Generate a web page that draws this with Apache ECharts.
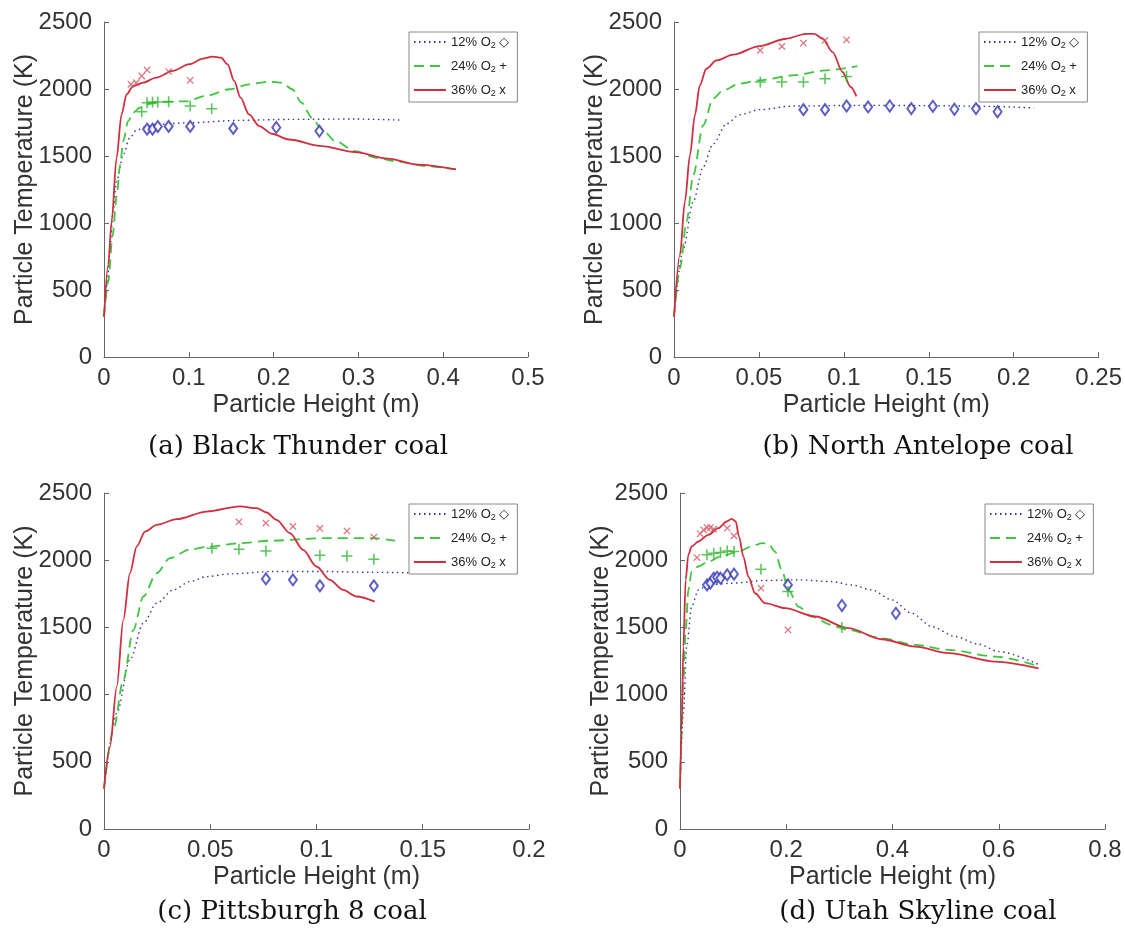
<!DOCTYPE html>
<html>
<head>
<meta charset="utf-8">
<script src="https://cdn.jsdelivr.net/npm/echarts@6/dist/echarts.min.js"></script>
<style>
html,body{margin:0;padding:0;background:#fff;}
#chart{width:1125px;height:934px;}
</style>
</head>
<body>
<div id="chart"></div>
<script>
// ---------- Data ----------
// Panel (a) Black Thunder coal
const a12Model = [[0,300],[0.004,560],[0.007,813],[0.011,1100],[0.0148,1312],[0.0227,1511],[0.0305,1636],[0.038,1691],[0.05,1720],[0.0617,1736],[0.1008,1748],[0.159,1766],[0.218,1773],[0.296,1776],[0.35,1768]];
const a24Model = [[0,300],[0.005,563],[0.01,900],[0.015,1200],[0.019,1436],[0.0227,1611],[0.0285,1761],[0.0344,1823],[0.042,1860],[0.054,1890],[0.073,1905],[0.097,1908],[0.12,1948],[0.148,1998],[0.171,2035],[0.195,2055],[0.21,2047],[0.222,1998],[0.233,1898],[0.245,1786],[0.257,1698],[0.273,1611],[0.296,1536],[0.323,1486],[0.343,1461],[0.38,1425],[0.415,1400]];
const a36Model = [[0,300],[0.005,688],[0.009,1012],[0.0148,1486],[0.0207,1810],[0.0266,1960],[0.0344,2022],[0.046,2047],[0.0617,2085],[0.081,2135],[0.1008,2185],[0.1164,2227],[0.128,2242],[0.138,2234],[0.1457,2185],[0.1535,2060],[0.161,1935],[0.171,1810],[0.183,1723],[0.198,1666],[0.218,1623],[0.257,1574],[0.296,1529],[0.335,1481],[0.37,1436],[0.415,1400]];
const a12Exp = [[0.0508,1700],[0.0572,1700],[0.0635,1720],[0.0762,1721],[0.1016,1721],[0.1524,1706],[0.2032,1713],[0.254,1686]];
const a24Exp = [[0.0445,1830],[0.0508,1898],[0.0572,1903],[0.0635,1903],[0.0762,1905],[0.1016,1873],[0.127,1853]];
const a36Exp = [[0.0318,2035],[0.0381,2047],[0.0445,2097],[0.0508,2142],[0.0762,2130],[0.1016,2065]];

// Panel (b) North Antelope coal
const b12Model = [[0,300],[0.0055,811],[0.0113,1159],[0.0172,1420],[0.023,1590],[0.0309,1740],[0.0387,1808],[0.0504,1846],[0.07,1873],[0.109,1878],[0.15,1876],[0.187,1870],[0.212,1858]];
const b24Model = [[0,300],[0.0035,662],[0.0074,1010],[0.0113,1357],[0.0172,1730],[0.023,1928],[0.0289,1990],[0.0387,2040],[0.0504,2065],[0.07,2102],[0.0895,2139],[0.108,2171]];
const b36Model = [[0,300],[0.0035,762],[0.0064,1159],[0.0094,1506],[0.0123,1804],[0.0152,2027],[0.019,2151],[0.025,2213],[0.0348,2256],[0.0504,2320],[0.066,2375],[0.0777,2412],[0.0826,2412],[0.0875,2375],[0.0934,2275],[0.0992,2127],[0.104,2015],[0.1074,1945]];
const b12Exp = [[0.0762,1846],[0.0889,1846],[0.1016,1873],[0.1143,1866],[0.127,1873],[0.1397,1854],[0.1524,1871],[0.1651,1849],[0.1778,1854],[0.1905,1830]];
const b24Exp = [[0.0508,2052],[0.0635,2052],[0.0762,2052],[0.0889,2077],[0.1016,2094]];
const b36Exp = [[0.0508,2288],[0.0635,2318],[0.0762,2342],[0.0889,2362],[0.1016,2367]];

// Panel (c) Pittsburgh 8 coal
const c12Model = [[0,300],[0.006,861],[0.0122,1258],[0.0185,1531],[0.0248,1680],[0.0326,1779],[0.0404,1841],[0.0483,1878],[0.0592,1898],[0.0796,1916],[0.103,1916],[0.125,1910],[0.149,1905]];
const c24Model = [[0,300],[0.0044,737],[0.0091,1109],[0.0138,1481],[0.0185,1730],[0.0248,1903],[0.031,2015],[0.0404,2080],[0.0498,2102],[0.064,2127],[0.0796,2146],[0.103,2164],[0.1266,2164],[0.137,2146]];
const c36Model = [[0,300],[0.0028,613],[0.006,1060],[0.0091,1556],[0.0122,1903],[0.0154,2102],[0.0193,2213],[0.0248,2263],[0.0342,2305],[0.0483,2362],[0.064,2400],[0.0718,2387],[0.0765,2355],[0.0812,2300],[0.0875,2201],[0.0937,2077],[0.1,1953],[0.1063,1854],[0.1125,1779],[0.1188,1730],[0.1274,1692]];
const c12Exp = [[0.0762,1861],[0.0889,1854],[0.1016,1809],[0.127,1809]];
const c24Exp = [[0.0508,2089],[0.0635,2082],[0.0762,2069],[0.1016,2037],[0.1143,2032],[0.127,2007]];
const c36Exp = [[0.0635,2285],[0.0762,2276],[0.0889,2251],[0.1016,2236],[0.1143,2218],[0.127,2171]];

// Panel (d) Utah Skyline coal
const d12Model = [[0,300],[0.0063,861],[0.0126,1357],[0.022,1655],[0.0345,1779],[0.0534,1816],[0.0973,1829],[0.1601,1849],[0.2229,1854],[0.2857,1841],[0.3234,1816],[0.3611,1779],[0.3987,1705],[0.4364,1605],[0.4741,1506],[0.518,1432],[0.562,1375],[0.6,1320],[0.68,1215]];
const d24Model = [[0,300],[0.0063,1109],[0.0107,1481],[0.0157,1779],[0.022,1916],[0.0345,1953],[0.0534,1990],[0.0785,2032],[0.1099,2064],[0.135,2102],[0.1539,2127],[0.1664,2122],[0.179,2064],[0.1915,1928],[0.2041,1779],[0.2229,1655],[0.248,1581],[0.2857,1519],[0.3171,1481],[0.3799,1419],[0.4427,1370],[0.5055,1333],[0.5934,1283],[0.675,1210]];
const d36Model = [[0,300],[0.0031,737],[0.0063,1357],[0.0107,1854],[0.0157,2040],[0.022,2102],[0.0345,2139],[0.0534,2189],[0.0722,2238],[0.0879,2288],[0.0973,2308],[0.1049,2288],[0.1111,2176],[0.1193,2027],[0.1287,1878],[0.1413,1754],[0.1601,1680],[0.1978,1643],[0.2543,1581],[0.3171,1494],[0.3799,1412],[0.4427,1357],[0.5055,1308],[0.5934,1246],[0.675,1195]];
const d12Exp = [[0.0508,1816],[0.0572,1830],[0.0635,1866],[0.0699,1873],[0.0762,1866],[0.0889,1891],[0.1016,1896],[0.2032,1816],[0.3048,1663],[0.4064,1605]];
const d24Exp = [[0.0508,2040],[0.0635,2052],[0.0762,2057],[0.0889,2069],[0.1016,2064],[0.1524,1933],[0.2032,1767],[0.3048,1499]];
const d36Exp = [[0.0318,2020],[0.0381,2196],[0.0445,2226],[0.0508,2243],[0.0572,2243],[0.0635,2231],[0.0889,2238],[0.1016,2181],[0.1524,1792],[0.2032,1481]];

// Axis ranges / tick steps and captions
const xMaxes = [0.5, 0.25, 0.2, 0.8];
const xSteps = [0.1, 0.05, 0.05, 0.2];
const yMax = 2500, yStep = 500;
const captions = ['(a) Black Thunder coal', '(b) North Antelope coal', '(c) Pittsburgh 8 coal', '(d) Utah Skyline coal'];
const legendLabels = ['12% O{s|2} ◇', '24% O{s|2} +', '36% O{s|2} x'];
const xTitle = 'Particle Height (m)';
const yTitle = 'Particle Temperature (K)';

// ---------- Layout & style ----------
const panels = [
  {key:'a', grid:{left:104, top:22, width:424, height:335}, legend:{left:409, top:32}, cap:{x:298, y:447},
   model:[a12Model,a24Model,a36Model], exp:[a12Exp,a24Exp,a36Exp]},
  {key:'b', grid:{left:674, top:22, width:425, height:335}, legend:{left:979, top:32}, cap:{x:918, y:447},
   model:[b12Model,b24Model,b36Model], exp:[b12Exp,b24Exp,b36Exp]},
  {key:'c', grid:{left:104, top:493, width:425, height:336}, legend:{left:409, top:504}, cap:{x:292, y:912},
   model:[c12Model,c24Model,c36Model], exp:[c12Exp,c24Exp,c36Exp]},
  {key:'d', grid:{left:680, top:493, width:425, height:336}, legend:{left:985, top:504}, cap:{x:918, y:912},
   model:[d12Model,d24Model,d36Model], exp:[d12Exp,d24Exp,d36Exp]}
];

const FONT = '"Liberation Sans", Arial, Helvetica, sans-serif';
const lineColors = ['#35359a', '#3fc63f', '#cf2f3f'];
const lineTypes = [[1.5, 3.5], [10, 6], 'solid'];
const lineWidths = [1.4, 1.8, 1.8];
const expColors = ['#3434b4', '#2fb52f', '#d6505e'];
const PLUS = 'path://M0,4.3H10V5.7H0Z M4.3,0H5.7V10H4.3Z';

const grids = [], xAxes = [], yAxes = [], series = [], legends = [], graphics = [];
const lvl = ['12', '24', '36'];

panels.forEach((p, i) => {
  grids.push(Object.assign({containLabel:false}, p.grid));
  xAxes.push({
    type:'value', gridIndex:i, min:0, max:xMaxes[i], interval:xSteps[i],
    name:xTitle, nameLocation:'middle', nameGap:36, nameMoveOverlap:false,
    nameTextStyle:{fontFamily:FONT, fontSize:25, color:'#333'},
    axisLine:{show:true, onZero:false, lineStyle:{color:'#666', width:1}},
    axisTick:{show:true, inside:true, length:5, lineStyle:{color:'#666'}},
    axisLabel:{fontFamily:FONT, fontSize:24, color:'#333', margin:9, showMinLabel:true, showMaxLabel:true,
      formatter:(v) => String(+v.toFixed(4))},
    splitLine:{show:false}
  });
  yAxes.push({
    type:'value', gridIndex:i, min:0, max:yMax, interval:yStep,
    name:yTitle, nameLocation:'middle', nameGap:66, nameMoveOverlap:false,
    nameTextStyle:{fontFamily:FONT, fontSize:25, color:'#333'},
    axisLine:{show:true, onZero:false, lineStyle:{color:'#666', width:1}},
    axisTick:{show:true, inside:true, length:5, lineStyle:{color:'#666'}},
    axisLabel:{fontFamily:FONT, fontSize:24, color:'#333', margin:12, formatter:(v) => String(v)},
    splitLine:{show:false}
  });
  const names = [];
  p.model.forEach((d, k) => {
    const nm = p.key + lvl[k];
    names.push(nm);
    series.push({
      type:'line', name:nm, xAxisIndex:i, yAxisIndex:i, data:d,
      smooth:0.3, smoothMonotone:'x', symbol:'none', z:2,
      lineStyle:{color:lineColors[k], width:lineWidths[k], type:lineTypes[k]},
      itemStyle:{color:lineColors[k]}
    });
  });
  p.exp.forEach((d, k) => {
    const s = {
      type:'scatter', name:p.key + lvl[k] + 'exp', xAxisIndex:i, yAxisIndex:i, data:d, z:3,
      silent:true
    };
    if (k === 0) {
      s.symbol = 'emptyDiamond'; s.symbolSize = [8, 11];
      s.itemStyle = {color:expColors[0], borderColor:expColors[0], borderWidth:1.5};
    } else if (k === 1) {
      s.symbol = PLUS; s.symbolSize = 11;
      s.itemStyle = {color:expColors[1]};
    } else {
      s.symbol = PLUS; s.symbolSize = 9; s.symbolRotate = 45;
      s.itemStyle = {color:expColors[2]};
    }
    series.push(s);
  });
  legends.push({
    orient:'vertical', left:p.legend.left, top:p.legend.top, data:names,
    selectedMode:false, itemWidth:32, itemHeight:12, itemGap:8,
    padding:[2, 8, 4, 4], borderColor:'#888', borderWidth:1, backgroundColor:'#fff',
    itemStyle:{color:'rgba(0,0,0,0)', borderWidth:0, opacity:0},
    formatter: (name) => legendLabels[lvl.indexOf(name.slice(1))],
    textStyle:{fontFamily:FONT, fontSize:13, color:'#222',
      rich:{ s:{fontFamily:FONT, fontSize:9, lineHeight:9, padding:[7,0,0,0], color:'#222'} } }
  });
  graphics.push({
    type:'text', x:p.cap.x, y:p.cap.y,
    style:{text:captions[i], font:'26px "DejaVu Serif", "Liberation Serif", serif', fill:'#111',
      align:'center', verticalAlign:'middle', textAlign:'center', textVerticalAlign:'middle'}
  });
});

const chart = echarts.init(document.getElementById('chart'), null, {renderer:'canvas'});
chart.setOption({
  backgroundColor:'#fff',
  animation:false,
  grid:grids, xAxis:xAxes, yAxis:yAxes, series:series, legend:legends, graphic:graphics
});
</script>
</body>
</html>
